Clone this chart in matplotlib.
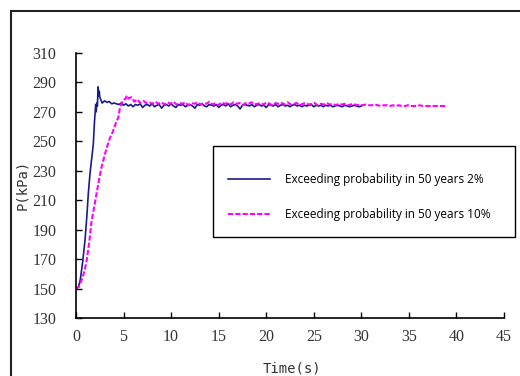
import numpy as np
import matplotlib
matplotlib.use("Agg")
import matplotlib.pyplot as plt
from matplotlib.lines import Line2D
from matplotlib.patches import Rectangle

# blue series: 2% exceeding probability (rise, then steady part sampled every 0.25 s)
blue_rise_t = [0, 0.25, 0.45, 0.7, 0.95, 1.15, 1.3, 1.47, 1.65, 1.82, 1.93, 2.0,
               2.07, 2.12, 2.18, 2.25, 2.32, 2.38, 2.45]
blue_rise_p = [150, 151, 156, 168, 183, 200, 215, 228, 238, 248, 262, 268,
               275, 270, 276, 274, 287, 281, 284]
blue_steady_p = [280, 276, 277.5, 276.5, 277, 275.5, 276, 275.5, 275, 276, 274.5, 275.5,
                 274, 275, 273.5, 275, 274.5, 275.5, 273, 274.5, 275, 274, 275.5, 273.5,
                 274.5, 275, 272.5, 274.5, 275, 274, 275.5, 274, 273, 275, 274.5, 275,
                 273.5, 274.5, 275, 274, 272.5, 275, 274.5, 275.5, 274, 273.5, 275, 274.5,
                 274, 275, 273, 274.5, 275, 274, 275.5, 273.5, 274.5, 275, 274, 272,
                 274.5, 275, 274.5, 274, 275, 273.5, 274.5, 275, 274, 274.5, 273, 275,
                 274.5, 274, 275, 273.5, 274.5, 275, 274, 274.5, 273.5, 274.5, 275, 274,
                 274.5, 273.5, 274.5, 274, 274.5, 275, 273.5, 274.5, 274, 274.5, 273.5, 274.5,
                 274, 274.5, 273.5, 274, 274.5, 274, 273.5, 274.5, 274, 273.5, 274, 274.5,
                 274, 273.5, 274]
blue_end_t = 30

# pink series: 10% exceeding probability
pink_rise_t = [0, 0.3, 0.6, 0.9, 1.12, 1.4, 1.64, 1.9, 2.17, 2.45, 2.7, 2.95, 3.2,
               3.55, 3.9, 4.28, 4.45, 4.6, 4.8, 5.0, 5.2, 5.35]
pink_rise_p = [150, 151, 156, 162, 169, 182, 196, 205, 215, 225, 233, 239, 245,
               252, 257, 264, 266, 272, 276, 278, 279, 281]
pink_steady_p = [279, 280, 277, 278.5, 276, 277.5, 276, 276.5, 275.5, 277, 275.5, 276.5,
                 275, 276.5, 275.5, 277, 275, 276, 275.5, 276.5, 274.5, 276, 275.5, 276.5,
                 275, 276, 275.5, 277, 275, 276, 274.5, 276.5, 275.5, 276, 275, 276.5,
                 275.5, 276, 274.5, 276, 275.5, 276.5, 275, 275.5, 276, 275, 276.5, 275.5,
                 274.5, 276, 275.5, 276, 275, 276.5, 275, 275.5, 276, 274.5, 275.5, 276,
                 275, 275.5, 276, 274.5, 275.5, 275, 276, 275, 275.5, 274.5, 275.5, 275,
                 275.5, 274.5, 275, 275.5, 274.5, 275, 274.5, 275, 274.5, 274.5, 275, 274.5,
                 274, 274.5, 274.5, 274, 274.5, 274, 274.5, 274, 274, 274.5, 274, 274,
                 274, 274.5, 274, 274, 274, 274, 274, 274, 274, 274, 274]
pink_end_t = 39

labels = ["Exceeding probability in 50 years 2%", "Exceeding probability in 50 years 10%"]

blue_t = np.concatenate([blue_rise_t, np.linspace(2.5, blue_end_t, len(blue_steady_p))])
blue_p = np.concatenate([blue_rise_p, blue_steady_p])
pink_t = np.concatenate([pink_rise_t, np.linspace(5.5, pink_end_t, len(pink_steady_p))])
pink_p = np.concatenate([pink_rise_p, pink_steady_p])

W, H = 520, 376
fig = plt.figure(figsize=(W / 100, H / 100), dpi=100)
ax = fig.add_axes([76 / W, 1 - 318 / H, (504 - 76) / W, (318 - 53) / H])

l1, = ax.plot(blue_t, blue_p, color="#1a1a8c", lw=1.2)
l2, = ax.plot(pink_t, pink_p, color="#ff00ff", lw=1.5, linestyle=(0, (2.5, 1)))

ax.set_xlim(0, 45)
ax.set_ylim(130, 310)
ax.set_xticks(np.arange(0, 46, 5))
ax.set_yticks(np.arange(130, 311, 20))
for s in ["top", "right"]:
    ax.spines[s].set_visible(False)
for s in ["left", "bottom"]:
    ax.spines[s].set_linewidth(1.2)
ax.tick_params(direction="in", length=4, width=1, labelsize=11.5)
ax.tick_params(axis="y", pad=14)
ax.tick_params(axis="x", pad=8)
for lab in ax.get_xticklabels() + ax.get_yticklabels():
    lab.set_family("Liberation Serif")
    lab.set_color("#333333")

fig.text(22 / W, 1 - 185 / H, "P(kPa)", rotation=90, ha="center", va="center",
         family="DejaVu Sans Mono", fontsize=10, color="#333333")
fig.text(292 / W, 1 - 368 / H, "Time(s)", ha="center", va="center",
         family="DejaVu Sans Mono", fontsize=10, color="#333333")

# outer frame (top and left edges visible)
fig.add_artist(Line2D([11 / W, 1], [1 - 11 / H, 1 - 11 / H], color="#222222", lw=1.5))
fig.add_artist(Line2D([11 / W, 11 / W], [0, 1 - 11 / H], color="#222222", lw=1.5))

# legend box
fig.add_artist(Rectangle((213 / W, 1 - 237 / H), 302 / W, 91 / H, fill=False,
                         edgecolor="black", lw=1.0))
fig.legend([l1, l2], labels, loc="upper left", bbox_to_anchor=(222 / W, 1 - 167 / H),
           frameon=False, prop={"family": "Open Sans", "size": 8.5},
           handlelength=3.6, handletextpad=1.2, labelspacing=1.9, borderpad=0)

fig.savefig("out.png", dpi=100)
